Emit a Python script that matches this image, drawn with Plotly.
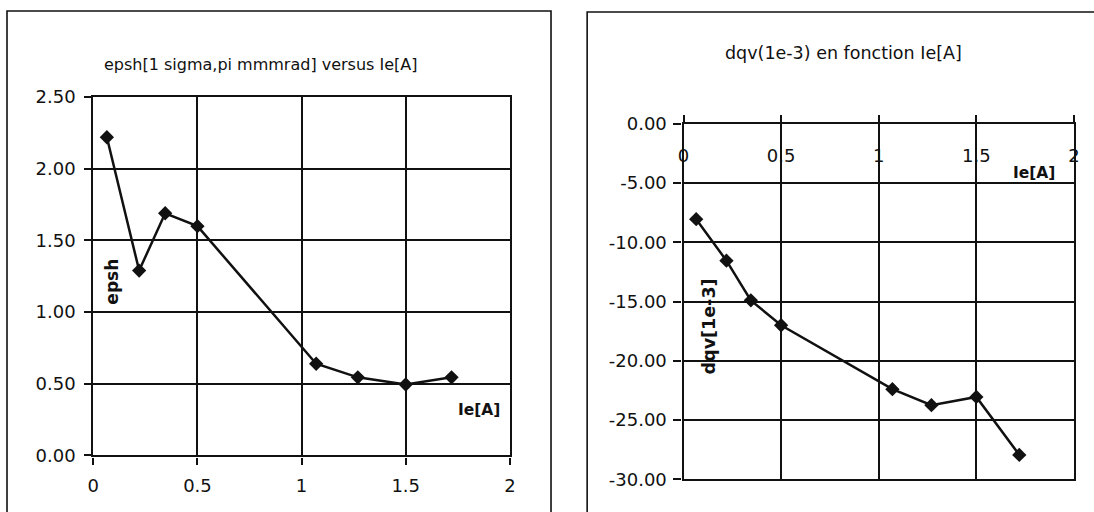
import plotly.graph_objects as go

# Beam current Ie [A] (shared by both panels)
ie_current = [0.065, 0.22, 0.345, 0.5, 1.07, 1.27, 1.5, 1.72]

# Left panel: horizontal emittance epsh [1 sigma, pi mm mrad]
epsh_values = [2.22, 1.29, 1.69, 1.60, 0.64, 0.545, 0.495, 0.545]

# Right panel: vertical tune shift dqv [1e-3]
dqv_values = [-8.05, -11.55, -14.9, -17.0, -22.4, -23.75, -23.05, -27.95]

# Tick values / labels
x_ticks = [0, 0.5, 1, 1.5, 2]
x_tick_labels = ["0", "0.5", "1", "1.5", "2"]
epsh_ticks = [0, 0.5, 1.0, 1.5, 2.0, 2.5]
dqv_ticks = [0, -5, -10, -15, -20, -25, -30]

W, H = 1094, 512
PAGE_PAD = 8                      # default page body margin
INNER_W, INNER_H = W - 2 * PAGE_PAD, H - 2 * PAGE_PAD
FONT = "DejaVu Sans"
INK = "#111111"


def px(x):
    """Window pixel column -> paper x."""
    return (x - PAGE_PAD) / INNER_W


def py(y):
    """Window pixel row (from top) -> paper y."""
    return 1 - (y - PAGE_PAD) / INNER_H


fig = go.Figure()

line_style = dict(color=INK, width=2.5)
marker_style = dict(symbol="diamond", size=11, color=INK)

fig.add_trace(go.Scatter(x=ie_current, y=epsh_values, mode="lines+markers",
                         line=line_style, marker=marker_style,
                         xaxis="x", yaxis="y", showlegend=False))
fig.add_trace(go.Scatter(x=ie_current, y=dqv_values, mode="lines+markers",
                         line=line_style, marker=marker_style,
                         xaxis="x2", yaxis="y2", showlegend=False))

axis_common = dict(
    showline=True, linecolor=INK, linewidth=2.2, mirror=True,
    showgrid=True, gridcolor=INK, gridwidth=1.8,
    zeroline=False, ticks="outside", tickcolor=INK, tickwidth=1.8,
    tickfont=dict(family=FONT, size=18, color=INK),
)

fig.update_layout(
    width=W, height=H,
    margin=dict(l=0, r=0, t=0, b=0),
    paper_bgcolor="white", plot_bgcolor="white",
    xaxis=dict(axis_common, domain=[px(95), px(510)], anchor="y",
               range=[0, 2], tickvals=x_ticks, ticktext=x_tick_labels,
               ticklen=7, ticklabelstandoff=6),
    yaxis=dict(axis_common, domain=[py(457), py(95)], anchor="x",
               range=[0, 2.5], tickvals=epsh_ticks,
               ticktext=[f"{v:.2f}" for v in epsh_ticks],
               ticklen=7, ticklabelstandoff=5),
    xaxis2=dict(axis_common, domain=[px(683), px(1072)], anchor="y2",
                side="top", range=[0, 2], tickvals=x_ticks,
                ticktext=x_tick_labels, ticklen=7,
                ticklabelposition="inside", ticklabeloverflow="allow",
                ticklabelstandoff=26),
    yaxis2=dict(axis_common, domain=[py(481), py(122)], anchor="x2",
                range=[-30, 0], tickvals=dqv_ticks,
                ticktext=[f"{v:.2f}" for v in dqv_ticks],
                ticklen=8, ticklabelstandoff=3),
)

# Chart frames around each panel
for x0, x1, y0 in [(9, 551, 8), (587, 1120, 9)]:
    fig.add_shape(type="rect", xref="paper", yref="paper",
                  x0=px(x0), x1=px(x1), y0=py(y0), y1=py(540),
                  line=dict(color=INK, width=1.6), fillcolor="rgba(0,0,0,0)",
                  layer="above")

texts = [
    ("epsh[1 sigma,pi mmmrad] versus Ie[A]", 262, 62, 16, 0),
    ("dqv(1e-3) en fonction Ie[A]", 842, 50, 17.5, 0),
    ("<b>epsh</b>", 114, 281, 17, -90),
    ("<b>Ie[A]</b>", 479, 411, 15.5, 0),
    ("<b>Ie[A]</b>", 1032, 172, 15.5, 0),
    ("<b>dqv[1e-3]</b>", 708, 327, 17.5, -90),
]
for text, x, y, size, angle in texts:
    fig.add_annotation(text=text, xref="paper", yref="paper",
                       x=px(x), y=py(y), xanchor="center", yanchor="middle",
                       showarrow=False, textangle=angle,
                       font=dict(family=FONT, size=size, color=INK))

fig.write_html("out.html")
